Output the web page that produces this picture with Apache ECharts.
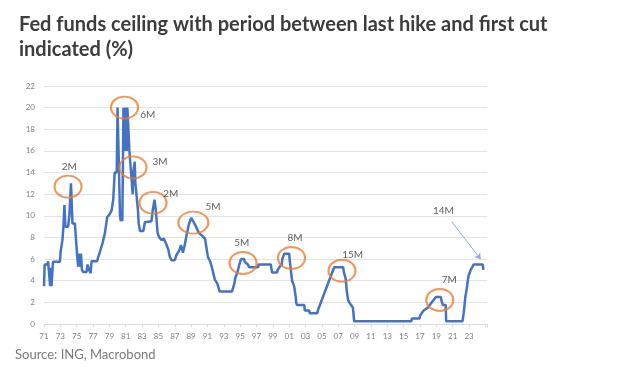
<!DOCTYPE html>
<html>
<head>
<meta charset="utf-8">
<script src="https://cdn.jsdelivr.net/npm/echarts@6/dist/echarts.min.js"></script>
<style>
html,body{margin:0;padding:0;background:#fff;}
#chart{width:624px;height:370px;}
</style>
</head>
<body>
<div id="chart"></div>
<script>
// ---- Data ----
const years = [
 1971.00,1971.08,1971.40,1971.50,1971.70,1971.75,1971.85,1971.92,1972.10,1972.95,
 1973.05,1973.25,1973.38,1973.50,1973.62,1973.95,1974.10,1974.30,1974.48,1974.78,
 1974.92,1975.07,1975.18,1975.30,1975.40,1975.52,1975.64,1975.80,1976.20,1976.33,
 1976.52,1976.70,1976.82,1977.50,1977.64,1977.85,1978.17,1978.45,1978.74,1979.00,
 1979.27,1979.47,1979.65,1979.90,1980.00,1980.20,1980.30,1980.40,1980.48,1980.58,
 1980.65,1980.72,1980.82,1980.88,1980.95,1981.05,1981.12,1981.20,1981.35,1981.45,
 1981.55,1981.75,1981.85,1981.92,1982.10,1982.18,1982.40,1982.50,1982.58,1982.75,
 1983.15,1983.35,1984.15,1984.30,1984.52,1984.68,1984.90,1985.10,1985.40,1985.65,
 1985.95,1986.20,1986.40,1986.60,1987.00,1987.22,1987.55,1987.75,1988.00,1988.22,
 1988.44,1988.72,1989.00,1989.25,1989.60,1989.95,1990.30,1990.70,1991.05,1991.35,
 1991.62,1991.90,1992.20,1992.50,1994.00,1994.10,1994.30,1994.40,1994.65,1994.90,
 1995.10,1995.50,1995.55,1995.95,1996.10,1997.20,1997.25,1998.75,1998.80,1998.85,
 1998.90,1999.50,1999.60,1999.80,2000.10,2000.15,2000.40,2001.00,2001.05,2001.20,
 2001.35,2001.60,2001.80,2001.85,2001.95,2002.85,2002.90,2003.45,2003.50,2004.45,
 2004.50,2006.50,2007.60,2007.70,2007.90,2008.05,2008.20,2008.35,2008.80,2008.95,
 2015.95,2016.00,2016.95,2017.00,2017.20,2017.45,2017.95,2018.20,2018.45,2018.70,
 2018.95,2019.55,2019.60,2019.70,2019.80,2020.15,2020.20,2022.20,2022.25,2022.35,
 2022.45,2022.55,2022.72,2022.85,2022.95,2023.10,2023.20,2023.40,2023.55,2024.68,
 2024.75
];
const rates = [
 3.5,5.5,5.5,5.8,5.8,3.5,5.2,3.5,5.75,5.75,
 6.8,7.75,9.0,11.0,9.0,9.0,10.0,13.0,9.3,9.3,
 7.75,6.2,5.3,6.5,5.3,6.5,5.0,4.8,4.8,5.5,
 5.0,4.7,5.8,5.8,6.2,6.7,7.5,8.4,9.9,10.1,
 10.5,11.5,14.0,14.0,20.0,20.0,10.0,9.5,10.5,9.5,
 14.0,20.0,20.0,16.0,20.0,20.0,16.0,20.0,20.0,16.0,
 15.0,15.0,12.0,14.0,15.0,13.0,13.0,10.5,9.3,8.6,
 8.6,9.4,9.5,10.5,11.5,10.5,8.4,8.0,7.75,7.9,
 7.4,6.9,6.2,5.9,5.9,6.4,6.8,7.3,6.6,7.3,
 8.2,9.2,9.8,9.5,9.0,8.4,8.2,7.9,6.2,5.75,
 5.0,4.1,3.75,3.0,3.0,3.25,3.75,4.25,4.75,5.5,
 6.0,6.0,5.75,5.5,5.25,5.25,5.5,5.5,5.25,5.0,
 4.75,4.75,5.0,5.25,5.5,6.0,6.5,6.5,6.0,5.0,
 4.0,3.5,2.5,2.0,1.75,1.75,1.25,1.25,1.0,1.0,
 1.25,5.25,5.25,4.75,4.25,3.0,2.25,2.0,1.5,0.25,
 0.25,0.5,0.5,0.75,1.0,1.25,1.5,1.75,2.0,2.25,
 2.5,2.5,2.25,2.0,1.75,1.75,0.25,0.25,0.5,1.0,
 1.75,2.5,3.25,4.0,4.5,4.75,5.0,5.25,5.5,5.5,
 5.0
];
const yTicks = [0,2,4,6,8,10,12,14,16,18,20,22];
const xTickYears = [1971,1973,1975,1977,1979,1981,1983,1985,1987,1989,1991,1993,1995,1997,1999,2001,2003,2005,2007,2009,2011,2013,2015,2017,2019,2021,2023];

// annotations (data coordinates)
const circleYears = [1973.94,1980.85,1981.89,1984.34,1989.27,1995.35,2001.28,2007.46,2019.42];
const circleVals  = [12.69,20.01,14.47,11.19,9.38,5.64,6.10,4.92,2.22];
const labelTexts  = ['2M','6M','3M','2M','5M','5M','8M','15M','7M','14M'];
const labelYears  = [1974.10,1983.69,1985.19,1986.50,1991.68,1995.19,2001.71,2008.77,2020.59,2019.86];
const labelVals   = [14.49,19.38,14.95,12.02,10.82,7.52,7.98,6.38,4.13,10.45];
const arrowFrom = [2020.88, 9.46];
const arrowTo   = [2024.43, 5.98];

const BASE = 1971;
const chart = echarts.init(document.getElementById('chart'), null, {renderer:'canvas'});
const FONT = 'Lato, "Open Sans", sans-serif';

const lineData = years.map((y,i)=>[y-BASE, rates[i]]);
const circleData = circleYears.map((y,i)=>[y-BASE, circleVals[i]]);
const labelData = labelYears.map((y,i)=>({value:[y-BASE, labelVals[i]], name:labelTexts[i]}));

const option = {
  animation:false,
  backgroundColor:'#ffffff',
  title:{
    text:'Fed funds ceiling with period between last hike and first cut\nindicated (%)',
    left:14, top:7,
    textStyle:{fontFamily:FONT, fontSize:20, fontWeight:'bold', color:'#3c3c3c', lineHeight:25}
  },
  graphic:[{
    type:'text', left:15, top:348,
    style:{text:'Source: ING, Macrobond', font:'13px '+FONT, fill:'#7a7a7a'}
  }],
  grid:{left:44, right:137, top:86, bottom:46, containLabel:false},
  xAxis:{
    type:'value', min:0, max:54.2, interval:2,
    axisLine:{show:true, lineStyle:{color:'#d9d9d9', width:1}},
    axisTick:{show:true, length:3, lineStyle:{color:'#d9d9d9'}},
    splitLine:{show:false},
    axisLabel:{
      fontFamily:FONT, fontSize:8, color:'#7f7f7f', margin:8,
      formatter:function(v){
        const yr = Math.round(v+BASE);
        if (xTickYears.indexOf(yr) < 0) return '';
        return String(yr%100).padStart(2,'0');
      }
    }
  },
  yAxis:{
    type:'value', min:yTicks[0], max:yTicks[yTicks.length-1], interval:2,
    axisLine:{show:false}, axisTick:{show:false},
    splitLine:{lineStyle:{color:'#e3e3e3', width:1}},
    axisLabel:{fontFamily:FONT, fontSize:8, color:'#7f7f7f', margin:9}
  },
  series:[
    {
      type:'line', data:lineData, showSymbol:false, symbol:'none',
      lineStyle:{color:'#4472C4', width:2.5}, z:2,
      markLine:{
        silent:true, symbol:['none','arrow'], symbolSize:6,
        label:{show:false},
        lineStyle:{color:'#8faadc', width:1, type:'solid'},
        data:[[{coord:[arrowFrom[0]-BASE, arrowFrom[1]]},{coord:[arrowTo[0]-BASE, arrowTo[1]]}]]
      }
    },
    {
      type:'scatter', data:circleData, symbol:'circle', symbolSize:function(v,p){return p.dataIndex===4?[30,22]:[27,22];},
      itemStyle:{color:'rgba(0,0,0,0)', borderColor:'#ED7D31', borderWidth:2}, z:3, silent:true
    },
    {
      type:'scatter', data:labelData, symbolSize:1, itemStyle:{color:'rgba(0,0,0,0)'}, z:4, silent:true,
      label:{show:true, position:'inside', formatter:'{b}', fontFamily:FONT, fontSize:10, color:'#333333'}
    }
  ]
};
chart.setOption(option);
</script>
</body>
</html>
